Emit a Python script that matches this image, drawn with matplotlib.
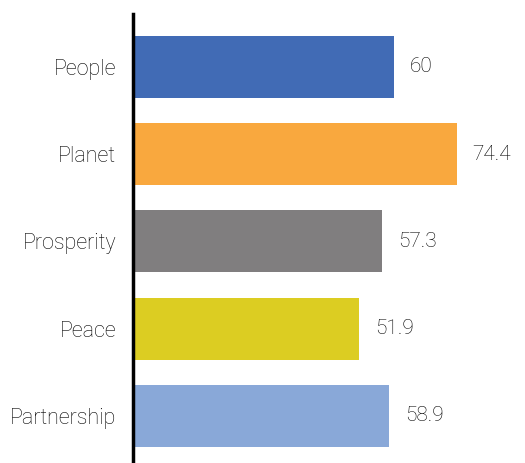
import matplotlib
matplotlib.use("Agg")
import matplotlib.pyplot as plt

categories = ["People", "Planet", "Prosperity", "Peace", "Partnership"]
values = [60, 74.4, 57.3, 51.9, 58.9]
value_labels = ["60", "74.4", "57.3", "51.9", "58.9"]
colors = ["#416BB5", "#F9A83E", "#807E7F", "#DCCD22", "#89A8D8"]

fig = plt.figure(figsize=(5.25, 4.63), dpi=100)
ax = fig.add_axes([133/525, 0, 1 - 133/525, 1 - 14/463])

y = list(range(len(categories)))
ax.barh(y, values, height=0.71, color=colors)
ax.set_ylim(4.54, -0.607)
ax.set_xlim(0, 90.1)

for yi, v, lab in zip(y, values, value_labels):
    ax.annotate(lab, (v, yi), xytext=(16, 0), textcoords="offset pixels",
                ha="left", va="center", fontsize=15, family="Roboto",
                fontweight="light", color="#000000")

ax.set_yticks(y)
ax.set_yticklabels(categories, fontsize=15.5, family="Roboto",
                   fontweight="light", color="#000000")
ax.tick_params(axis="y", length=0, pad=12)
ax.set_xticks([])
for s in ["top", "right", "bottom"]:
    ax.spines[s].set_visible(False)
ax.spines["left"].set_linewidth(2.5)
ax.spines["left"].set_color("black")

fig.savefig("out.png", dpi=100)
